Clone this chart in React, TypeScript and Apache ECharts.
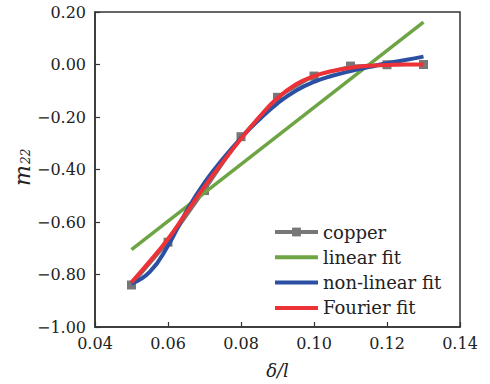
import React, { useEffect, useRef } from "react";
import * as echarts from "echarts";

const copperX = [0.05, 0.06, 0.07, 0.08, 0.09, 0.10, 0.11, 0.12, 0.13];
const copperY = [-0.84, -0.677, -0.48, -0.275, -0.125, -0.044, -0.006, -0.001, 0.0];

const linearX = [0.05, 0.13];
const linearY = [-0.705, 0.161];

const nonlinearX = [0.05, 0.055, 0.06, 0.065, 0.07, 0.075, 0.08, 0.085, 0.09, 0.095, 0.10, 0.105, 0.11, 0.115, 0.12, 0.125, 0.13];
const nonlinearY = [-0.835, -0.79, -0.69, -0.56, -0.45, -0.36, -0.28, -0.21, -0.148, -0.1, -0.066, -0.043, -0.025, -0.01, 0.005, 0.017, 0.03];

const fourierX = [0.05, 0.055, 0.06, 0.065, 0.07, 0.075, 0.08, 0.085, 0.09, 0.095, 0.10, 0.105, 0.11, 0.115, 0.12, 0.125, 0.13];
const fourierY = [-0.83, -0.75, -0.665, -0.565, -0.465, -0.372, -0.283, -0.2, -0.128, -0.076, -0.044, -0.025, -0.012, -0.005, -0.002, 0.0, 0.0];

const seriesNames = ["copper", "linear fit", "non-linear fit", "Fourier fit"];
const colors = ["#777777", "#6ea544", "#2b50a3", "#ec3237"];

const pair = (xs: number[], ys: number[]) => xs.map((x, i) => [x, ys[i]]);
const fmt = (v: number) => {
  const s = Math.abs(v).toFixed(2);
  return v < -1e-9 ? "\u2212" + s : s;
};

const FONT = "DejaVu Serif";
const lineIcon = "path://M0,0 L43,0 L43,4 L0,4 Z";

export default function App() {
  const ref = useRef<HTMLDivElement>(null);
  useEffect(() => {
    if (!ref.current) return;
    const chart = echarts.init(ref.current, undefined, { renderer: "svg" });
    chart.setOption({
      animation: false,
      backgroundColor: "#ffffff",
      grid: {
        left: 95,
        right: 30,
        top: 12,
        bottom: 52,
        show: true,
        borderColor: "#333333",
        borderWidth: 1.5,
        backgroundColor: "transparent",
      },
      legend: {
        data: [
          { name: seriesNames[0], lineStyle: { width: 4 }, itemStyle: { color: colors[0] } },
          { name: seriesNames[1], icon: lineIcon },
          { name: seriesNames[2], icon: lineIcon },
          { name: seriesNames[3], icon: lineIcon },
        ],
        orient: "vertical",
        left: 273,
        top: 223,
        padding: 0,
        itemWidth: 43,
        itemHeight: 11,
        itemGap: 7.3,
        symbolKeepAspect: true,
        textStyle: { fontFamily: FONT, fontSize: 18, color: "#222", lineHeight: 16 },
      },
      xAxis: {
        type: "value",
        min: 0.04,
        max: 0.14,
        interval: 0.02,
        name: "δ/l",
        nameLocation: "middle",
        nameGap: 34,
        nameTextStyle: { fontFamily: FONT, fontStyle: "italic", fontSize: 18, color: "#222" },
        axisLine: { show: true, onZero: false, lineStyle: { color: "#333", width: 1.5 } },
        axisTick: { show: true, inside: true, length: 5, lineStyle: { color: "#333", width: 1.2 } },
        axisLabel: { formatter: fmt, fontFamily: FONT, fontSize: 16, color: "#222", margin: 8 },
        splitLine: { show: false },
      },
      yAxis: {
        type: "value",
        min: -1,
        max: 0.2,
        interval: 0.2,
        axisLine: { show: true, onZero: false, lineStyle: { color: "#333", width: 1.5 } },
        axisTick: { show: true, inside: true, length: 5, lineStyle: { color: "#333", width: 1.2 } },
        axisLabel: { formatter: fmt, fontFamily: FONT, fontSize: 16, color: "#222", margin: 9 },
        splitLine: { show: false },
      },
      graphic: [
        {
          type: "group",
          x: 22,
          y: 165,
          rotation: Math.PI / 2,
          children: [
            {
              type: "text",
              x: 0,
              y: 0,
              style: {
                text: "m",
                fontFamily: FONT,
                fontStyle: "italic",
                fontSize: 22,
                fill: "#222",
                align: "right",
                verticalAlign: "middle",
              },
            },
            {
              type: "text",
              x: 1,
              y: 4,
              style: {
                text: "22",
                fontFamily: FONT,
                fontStyle: "italic",
                fontSize: 12,
                fill: "#222",
                align: "left",
                verticalAlign: "middle",
              },
            },
          ],
        },
      ],
      series: [
        {
          name: seriesNames[0],
          type: "line",
          data: pair(copperX, copperY),
          symbol: "rect",
          symbolSize: 9,
          itemStyle: { color: colors[0] },
          lineStyle: { color: colors[0], width: 3 },
          z: 1,
        },
        {
          name: seriesNames[1],
          type: "line",
          data: pair(linearX, linearY),
          symbol: "none",
          itemStyle: { color: colors[1] },
          lineStyle: { color: colors[1], width: 3.5 },
          z: 2,
        },
        {
          name: seriesNames[2],
          type: "line",
          data: pair(nonlinearX, nonlinearY),
          symbol: "none",
          smooth: 0.5,
          itemStyle: { color: colors[2] },
          lineStyle: { color: colors[2], width: 4 },
          z: 3,
        },
        {
          name: seriesNames[3],
          type: "line",
          data: pair(fourierX, fourierY),
          symbol: "none",
          smooth: 0.5,
          itemStyle: { color: colors[3] },
          lineStyle: { color: colors[3], width: 4 },
          z: 4,
        },
      ],
    });
    return () => chart.dispose();
  }, []);
  return (
    <div
      ref={ref}
      style={{ position: "fixed", left: 0, top: 0, width: 490, height: 384 }}
    />
  );
}
